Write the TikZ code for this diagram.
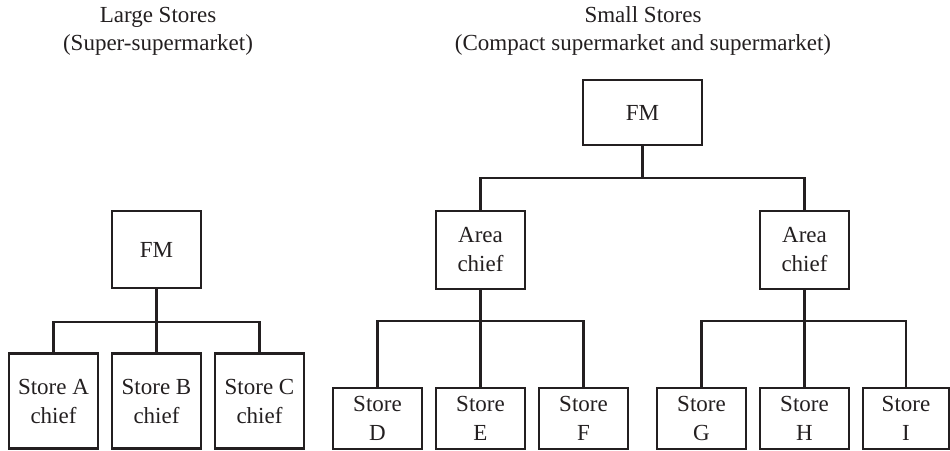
\documentclass[tikz,border=0pt]{standalone}
\usepackage{fontspec}
\setmainfont{Liberation Serif}
\definecolor{ink}{RGB}{35,31,32}
\begin{document}
\begin{tikzpicture}[x=1pt,y=-1pt,
  every node/.style={text=ink},
  box/.style={draw=ink,line width=2.5pt,rectangle,inner sep=0pt,align=center,
    font=\fontsize{23}{29}\selectfont},
  small/.style={box,minimum width=89pt,minimum height=61pt},
  chief/.style={box,minimum width=89pt,minimum height=95pt},
  area/.style={box,minimum width=89pt,minimum height=78pt},
  title/.style={anchor=base,inner sep=0pt,font=\fontsize{23}{29}\selectfont},
  link/.style={draw=ink,line width=2.5pt}]
\useasboundingbox (0,0) rectangle (950,450);
% titles
\node[title] (t1) at (158,22) {Large Stores};
\node[title] (t2) at (158,50) {(Super-supermarket)};
\node[title] (t3) at (643,22) {Small Stores};
\node[title] (t4) at (643,50) {(Compact supermarket and supermarket)};
% left tree
\node[box,minimum width=89pt,minimum height=77pt] (lfm) at (156.5,249.5) {FM};
\node[chief] (sa) at (53.5,401) {Store A\\chief};
\node[chief] (sb) at (156.5,401) {Store B\\chief};
\node[chief] (sc) at (259.5,401) {Store C\\chief};
\coordinate (lbus) at (156.5,322);
\draw[link] (lfm.south) -- (lbus);
\draw[link] (sa.north) |- (lbus) -| (sc.north);
\draw[link] (lbus) -- (sb.north);
% right tree
\node[box,minimum width=119pt,minimum height=65pt] (rfm) at (642.5,112.5) {FM};
\node[area] (a1) at (480.5,250) {Area\\chief};
\node[area] (a2) at (804.5,250) {Area\\chief};
\coordinate (rbus) at (642.5,178);
\draw[link] (rfm.south) -- (rbus);
\draw[link] (a1.north) |- (rbus) -| (a2.north);
\node[small] (sd) at (377.5,418.5) {Store\\D};
\node[small] (se) at (480.5,418.5) {Store\\E};
\node[small] (sf) at (583.5,418.5) {Store\\F};
\node[small] (sg) at (701.5,418.5) {Store\\G};
\node[small] (sh) at (804.5,418.5) {Store\\H};
\node[small,minimum width=86pt] (si) at (906,418.5) {Store\\I};
\coordinate (b1) at (480.5,321);
\coordinate (b2) at (804.5,321);
\draw[link] (a1.south) -- (b1);
\draw[link] (sd.north) |- (b1) -| (sf.north);
\draw[link] (b1) -- (se.north);
\draw[link] (a2.south) -- (b2);
\draw[link] (sg.north) |- (b2) -| (si.north);
\draw[link] (b2) -- (sh.north);
\end{tikzpicture}
\end{document}
